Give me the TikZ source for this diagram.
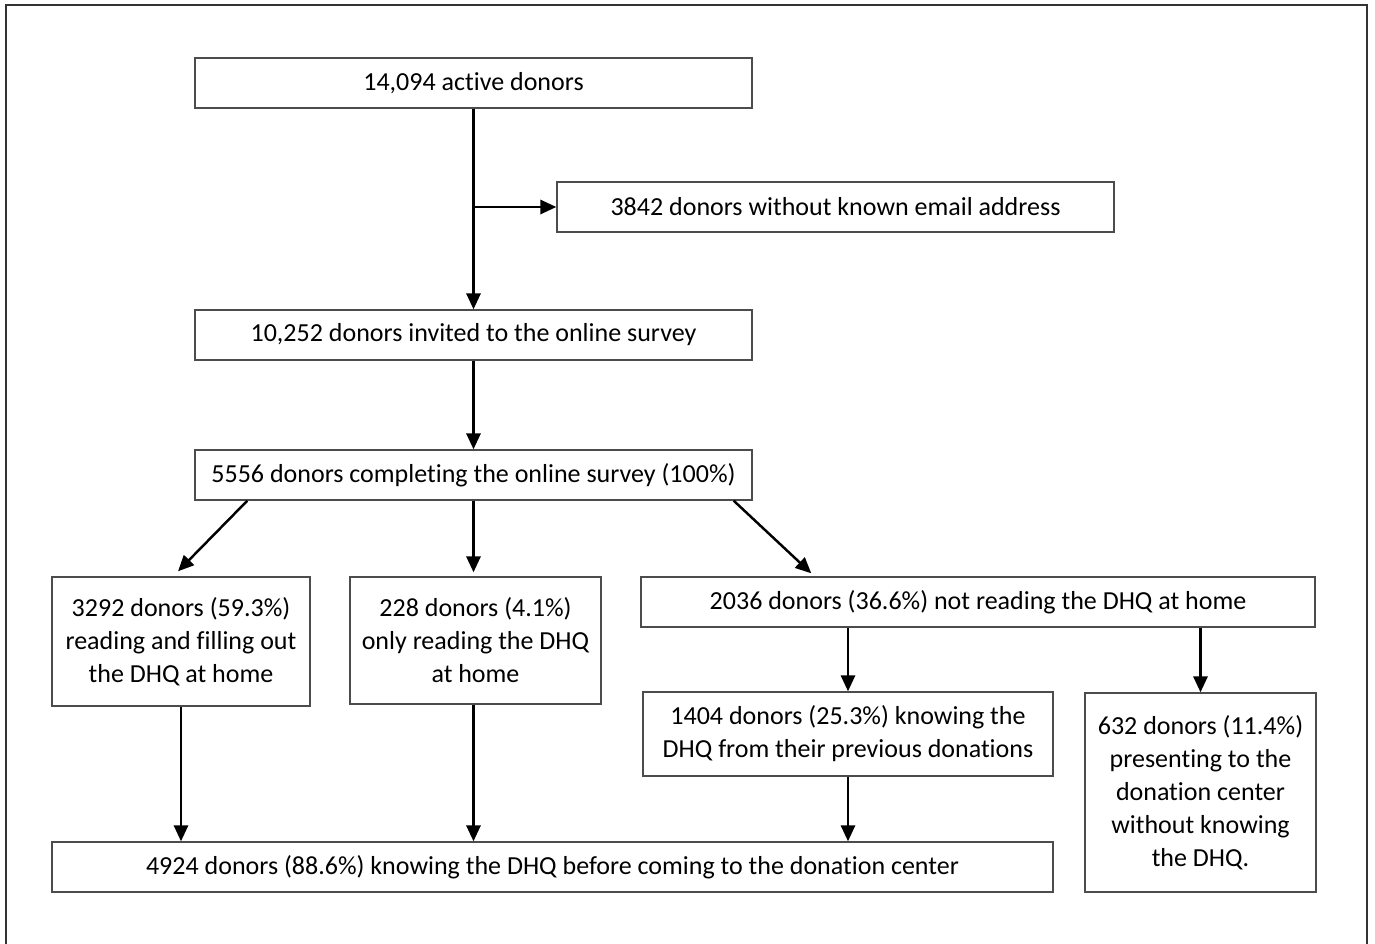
\documentclass[tikz,border=0pt]{standalone}
\usepackage{fontspec}
\setmainfont{Carlito}[Ligatures=NoCommon]
\usetikzlibrary{arrows.meta,calc}

\begin{document}
\begin{tikzpicture}[
    x=1cm, y=1cm,
    every node/.style={font=\fontsize{14.8}{18.8}\selectfont, text=black},
    box/.style={draw=black!70, line width=0.8pt, align=center, inner sep=2pt},
    flow/.style={-{Triangle[length=9pt,width=8pt]}, line width=1.4pt, black}]

\useasboundingbox (0,0) rectangle (27.5,-18.88);
% outer frame (open at the bottom)
\draw[black!80, line width=0.6pt] (0.12,-18.88) -- (0.12,-0.1) -- (27.34,-0.1) -- (27.34,-18.88);

% boxes
\node[box, minimum width=11.14cm, minimum height=1cm] (active) at (9.47,-1.66) {14,094 active donors};
\node[box, minimum width=11.14cm, minimum height=1cm] (noemail) at (16.71,-4.14) {3842 donors without known email address};
\node[box, minimum width=11.14cm, minimum height=1cm] (invited) at (9.47,-6.70) {10,252 donors invited to the online survey};
\node[box, minimum width=11.14cm, minimum height=1cm] (completed) at (9.47,-9.50) {5556 donors completing the online survey (100\%)};
\node[box, minimum width=5.16cm, minimum height=2.58cm] (filled) at (3.62,-12.83) {3292 donors (59.3\%)\\reading and filling out\\the DHQ at home};
\node[box, minimum width=5.02cm, minimum height=2.54cm] (onlyread) at (9.51,-12.81) {228 donors (4.1\%)\\only reading the DHQ\\at home};
\node[box, minimum width=13.48cm, minimum height=1cm] (notread) at (19.56,-12.04) {2036 donors (36.6\%) not reading the DHQ at home};
\node[box, minimum width=8.2cm, minimum height=1.68cm] (previous) at (16.96,-14.68) {1404 donors (25.3\%) knowing the\\DHQ from their previous donations};
\node[box, minimum width=4.62cm, minimum height=3.98cm] (unknown) at (24.01,-15.85) {632 donors (11.4\%)\\presenting to the\\donation center\\without knowing\\the DHQ.};
\node[box, minimum width=20.02cm, minimum height=1cm] (knowing) at (11.05,-17.34) {4924 donors (88.6\%) knowing the DHQ before coming to the donation center};

% connectors
\coordinate (split) at (active.south |- noemail.west);
\draw[flow] (active) -- (invited);
\draw[flow] (split) -- (noemail.west);
\draw[flow] (invited) -- (completed);

\coordinate (leftout) at ([xshift=1.06cm]completed.south west);
\coordinate (rightout) at ([xshift=-0.38cm]completed.south east);
\coordinate (rightin) at ([xshift=3.42cm,yshift=0.06cm]notread.north west);
\draw[flow] (leftout) -- ([xshift=-0.06cm,yshift=0.1cm]filled.north);
\draw[flow] (completed.south) -- ([yshift=0.08cm]completed.south |- onlyread.north);
\draw[flow] (rightout) -- (rightin);

\draw[flow] (notread.south -| previous.north) -- (previous.north);
\draw[flow] (notread.south -| unknown.north) -- (unknown.north);

\draw[flow] (filled) -- (filled.south |- knowing.north);
\draw[flow] (onlyread.south -| completed.south) -- (completed.south |- knowing.north);
\draw[flow] (previous) -- (previous.south |- knowing.north);

\end{tikzpicture}
\end{document}
